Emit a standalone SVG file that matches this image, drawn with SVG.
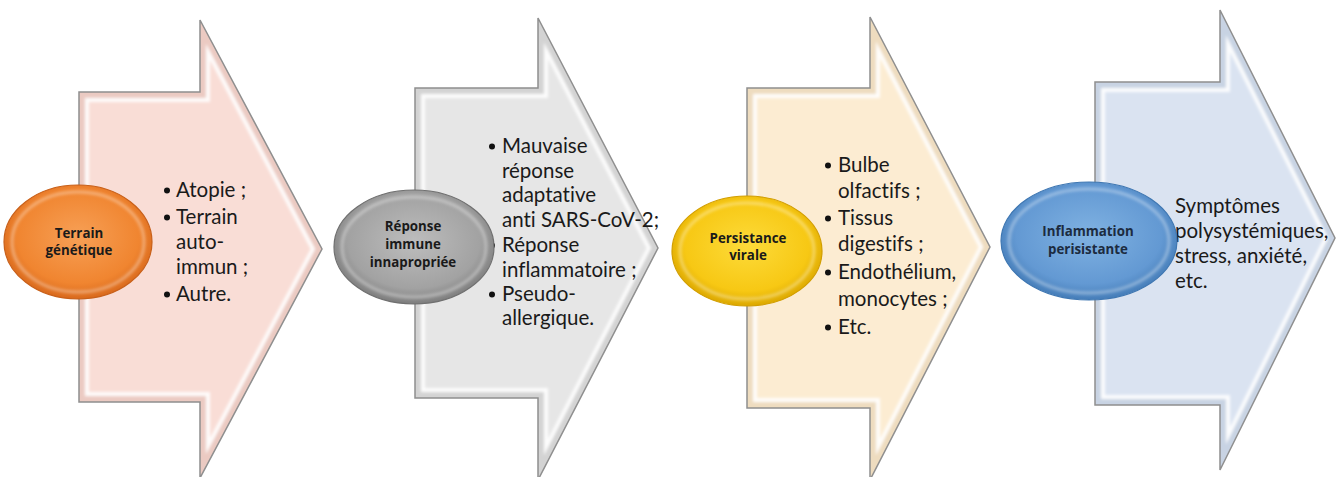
<svg xmlns="http://www.w3.org/2000/svg" xmlns:xlink="http://www.w3.org/1999/xlink" width="1339" height="477" viewBox="0 0 1339 477">
<style>
.outline{fill:none;stroke:#8f8f8f;stroke-width:1.5;stroke-linejoin:miter}
.hl{fill:none;stroke:#ffffff;stroke-opacity:0.9;stroke-width:20}
.rim{fill:none;stroke-width:12}
.body{font-family:Lato,"Open Sans",sans-serif;font-size:20.5px;fill:#1a1a1a;font-variant-ligatures:none;font-feature-settings:"liga" 0,"dlig" 0}
.lab{font-family:"Open Sans","Noto Sans",sans-serif;font-size:13.3px;font-weight:bold;text-anchor:middle;fill:#1a1a1a}
.dot{fill:#111111}
.eo{stroke-width:1.2}
.ering{fill:none;stroke:#ffffff;stroke-opacity:0.35;stroke-width:3}
</style>
<defs>
<filter id="soft" x="-10%" y="-10%" width="120%" height="120%"><feGaussianBlur stdDeviation="1.6"/></filter>
<path id="p1" d="M79,92 H200 V20 L322,249 L200,478 V402 H79 Z"/>
<path id="p2" d="M415,88 H538 V18 L658,248 L538,480 V398 H415 Z"/>
<path id="p3" d="M747,88 H870 V17 L990,247 L870,480 V408 H747 Z"/>
<path id="p4" d="M1095,82 H1220 V10 L1335,238 L1220,470 V405 H1095 Z"/>
<clipPath id="c1"><use xlink:href="#p1"/></clipPath>
<clipPath id="c2"><use xlink:href="#p2"/></clipPath>
<clipPath id="c3"><use xlink:href="#p3"/></clipPath>
<clipPath id="c4"><use xlink:href="#p4"/></clipPath>
<radialGradient id="g1" cx="50%" cy="45%" r="55%"><stop offset="0" stop-color="#f7a056"/><stop offset="0.75" stop-color="#f08530"/><stop offset="1" stop-color="#d9691c"/></radialGradient>
<radialGradient id="g2" cx="50%" cy="45%" r="55%"><stop offset="0" stop-color="#bdbdbd"/><stop offset="0.75" stop-color="#a2a2a2"/><stop offset="1" stop-color="#7d7d7d"/></radialGradient>
<radialGradient id="g3" cx="50%" cy="45%" r="55%"><stop offset="0" stop-color="#fddb3a"/><stop offset="0.75" stop-color="#f7c814"/><stop offset="1" stop-color="#dca800"/></radialGradient>
<radialGradient id="g4" cx="50%" cy="45%" r="55%"><stop offset="0" stop-color="#80b2e2"/><stop offset="0.75" stop-color="#6399d3"/><stop offset="1" stop-color="#457db8"/></radialGradient>
</defs>

<g id="connectors"></g>

<g id="step1">
<use xlink:href="#p1" fill="#f9ddd6"/>
<g clip-path="url(#c1)"><g filter="url(#soft)"><use xlink:href="#p1" class="hl"/><use xlink:href="#p1" class="rim" stroke="#ebcac2"/></g></g>
<use xlink:href="#p1" class="outline"/>
<circle class="dot" cx="167" cy="190.5" r="3"/><circle class="dot" cx="167" cy="217.5" r="3"/><circle class="dot" cx="167" cy="294.5" r="3"/>
<text class="body"><tspan x="176" y="197">Atopie ;</tspan><tspan x="176" y="224">Terrain</tspan><tspan x="176" y="249">auto-</tspan><tspan x="176" y="274">immun ;</tspan><tspan x="176" y="301">Autre.</tspan></text>
</g>
<g id="node1">
<ellipse cx="78" cy="242" rx="74" ry="57" fill="url(#g1)" stroke="#c8601a" class="eo"/>
<ellipse cx="78" cy="242" rx="66" ry="50" class="ering" filter="url(#soft)"/>
<text class="lab"><tspan x="79" y="238">Terrain</tspan><tspan x="79" y="255">génétique</tspan></text>
</g>

<g id="step2">
<use xlink:href="#p2" fill="#e6e6e6"/>
<g clip-path="url(#c2)"><g filter="url(#soft)"><use xlink:href="#p2" class="hl"/><use xlink:href="#p2" class="rim" stroke="#d3d3d3"/></g></g>
<use xlink:href="#p2" class="outline"/>
<circle class="dot" cx="492" cy="146.5" r="3"/><circle class="dot" cx="492" cy="245.5" r="3"/><circle class="dot" cx="492" cy="294.5" r="3"/>
<text class="body"><tspan x="502" y="153">Mauvaise</tspan><tspan x="502" y="178">réponse</tspan><tspan x="502" y="202">adaptative</tspan><tspan x="502" y="227">anti SARS-CoV-2;</tspan><tspan x="502" y="252">Réponse</tspan><tspan x="502" y="277">inflammatoire ;</tspan><tspan x="502" y="301">Pseudo-</tspan><tspan x="502" y="325">allergique.</tspan></text>
</g>
<g id="node2">
<ellipse cx="414" cy="247" rx="80" ry="57" fill="url(#g2)" stroke="#707070" class="eo"/>
<ellipse cx="414" cy="247" rx="72" ry="50" class="ering" filter="url(#soft)"/>
<text class="lab"><tspan x="413" y="231">Réponse</tspan><tspan x="413" y="249">immune</tspan><tspan x="413" y="267">innapropriée</tspan></text>
</g>

<g id="step3">
<use xlink:href="#p3" fill="#fcecd2"/>
<g clip-path="url(#c3)"><g filter="url(#soft)"><use xlink:href="#p3" class="hl"/><use xlink:href="#p3" class="rim" stroke="#eedcbf"/></g></g>
<use xlink:href="#p3" class="outline"/>
<circle class="dot" cx="828" cy="165.5" r="3"/><circle class="dot" cx="828" cy="218.5" r="3"/><circle class="dot" cx="828" cy="272.5" r="3"/><circle class="dot" cx="828" cy="327.5" r="3"/>
<text class="body"><tspan x="838" y="172">Bulbe</tspan><tspan x="838" y="198">olfactifs ;</tspan><tspan x="838" y="225">Tissus</tspan><tspan x="838" y="251">digestifs ;</tspan><tspan x="838" y="279">Endothélium,</tspan><tspan x="838" y="306">monocytes ;</tspan><tspan x="838" y="334">Etc.</tspan></text>
</g>
<g id="node3">
<ellipse cx="747" cy="251" rx="75" ry="55" fill="url(#g3)" stroke="#d29e00" class="eo"/>
<ellipse cx="747" cy="251" rx="67" ry="48" class="ering" filter="url(#soft)"/>
<text class="lab"><tspan x="748" y="243">Persistance</tspan><tspan x="748" y="260">virale</tspan></text>
</g>

<g id="step4">
<use xlink:href="#p4" fill="#dae3f1"/>
<g clip-path="url(#c4)"><g filter="url(#soft)"><use xlink:href="#p4" class="hl"/><use xlink:href="#p4" class="rim" stroke="#c8d3e3"/></g></g>
<use xlink:href="#p4" class="outline"/>
<text class="body"><tspan x="1175" y="213">Symptômes</tspan><tspan x="1175" y="238">polysystémiques,</tspan><tspan x="1175" y="263">stress, anxiété,</tspan><tspan x="1175" y="288">etc.</tspan></text>
</g>
<g id="node4">
<ellipse cx="1089" cy="241" rx="88" ry="59" fill="url(#g4)" stroke="#3f77b2" class="eo"/>
<ellipse cx="1089" cy="241" rx="80" ry="52" class="ering" filter="url(#soft)"/>
<text class="lab" style="fill:#1c2b40"><tspan x="1088" y="236">Inflammation</tspan><tspan x="1088" y="254">perisistante</tspan></text>
</g>
</svg>
